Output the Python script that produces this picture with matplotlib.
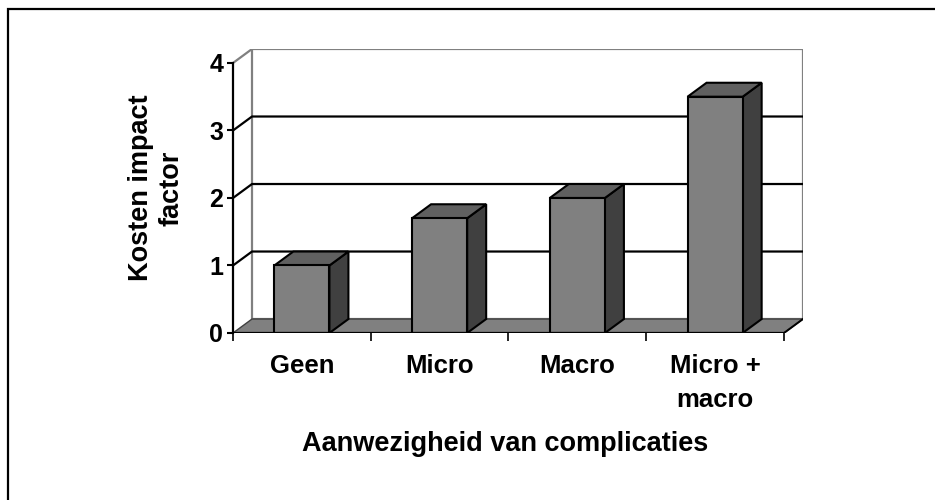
import numpy as np
import matplotlib
matplotlib.use("Agg")
import matplotlib.pyplot as plt
from matplotlib.patches import Polygon, Rectangle

categories = ["Geen", "Micro", "Macro", "Micro +\nmacro"]
values = [1.0, 1.7, 2.0, 3.5]
yticks = [0, 1, 2, 3, 4]

plt.rcParams['font.family'] = ['Liberation Sans', 'DejaVu Sans']
plt.rcParams['font.weight'] = 'bold'
plt.rcParams['axes.labelweight'] = 'bold'

# fake 3d: depth offset of the back wall, in data units
dx = 0.138
dy = 0.207
bar_w = 0.4
ymax = 4

front = '#808080'
top = '#606060'
side = '#404040'

fig = plt.figure(figsize=(9.35, 5), dpi=100)
ax = fig.add_axes([0.2492, 0.334, 0.6096, 0.568])
n = len(categories)
x0, x1 = -0.5, n - 0.5
ax.set_xlim(x0, x1 + dx)
ax.set_ylim(0, ymax + dy)
ax.patch.set_visible(False)
for sp in ['top', 'right', 'bottom']:
    ax.spines[sp].set_visible(False)

# back wall
ax.add_patch(Rectangle((x0 + dx, dy), x1 - x0, ymax, facecolor='white',
                       edgecolor='#808080', lw=1.6, zorder=1))
# left wall top edge
ax.plot([x0, x0 + dx], [ymax, ymax + dy], color='#808080', lw=1.6, zorder=1,
        solid_capstyle='butt')

# gridlines across back wall and left wall
for v in yticks[1:-1]:
    ax.plot([x0, x0 + dx, x1 + dx], [v, v + dy, v + dy], color='black',
            lw=1.6, zorder=2)

# floor
ax.add_patch(Polygon([(x0, 0), (x1, 0), (x1 + dx, dy), (x0 + dx, dy)],
                     closed=True, facecolor='#808080', edgecolor='#404040',
                     lw=1.0, zorder=3))
ax.plot([x1, x1 + dx], [0, dy], color='black', lw=1.4, zorder=3)

# bars
for i, v in enumerate(values):
    l, r = i - bar_w / 2, i + bar_w / 2
    ax.add_patch(Polygon([(r, 0), (r + dx, dy), (r + dx, v + dy), (r, v)],
                         closed=True, facecolor=side, edgecolor='black',
                         lw=1.5, zorder=4))
    ax.add_patch(Polygon([(l, v), (r, v), (r + dx, v + dy), (l + dx, v + dy)],
                         closed=True, facecolor=top, edgecolor='black',
                         lw=1.5, zorder=4))
    ax.add_patch(Rectangle((l, 0), bar_w, v, facecolor=front,
                           edgecolor='black', lw=1.5, zorder=5))

# front x axis line
ax.plot([x0, x1], [0, 0], color='black', lw=1.6, zorder=6)

ax.spines['left'].set_bounds(0, ymax)
ax.spines['left'].set_linewidth(1.6)
ax.spines['left'].set_zorder(6)
ax.set_yticks(yticks)
ax.tick_params(axis='y', length=4, width=1.5, pad=3, labelsize=18)

# category boundaries as ticks, labels at bar centres
ax.set_xticks(np.arange(x0, x1 + 0.01, 1.0))
ax.set_xticklabels([])
ax.tick_params(axis='x', which='major', length=6, width=1.2, direction='out')
ax.set_xticks(np.arange(n), minor=True)
ax.set_xticklabels(categories, minor=True, fontsize=18.5, fontweight='bold',
                   linespacing=1.55, va='top')
ax.tick_params(axis='x', which='minor', length=0, pad=15)

ax.set_xlabel("Aanwezigheid van complicaties", fontsize=19.5,
              fontweight='bold', va='center')
ax.xaxis.set_label_coords(0.477, -0.39)
ax.set_ylabel("Kosten impact\nfactor", fontsize=19.5, fontweight='bold',
              va='center', ha='center', multialignment='center')
ax.yaxis.set_label_coords(-0.135, 0.511)

# outer chart border (left and top only are visible)
fig.add_artist(Rectangle((7.5 / 935, -0.1), 1.2, 1.1 - 9.5 / 500,
                         transform=fig.transFigure, fill=False,
                         edgecolor='black', lw=1.6))

fig.savefig("out.png", dpi=100)
